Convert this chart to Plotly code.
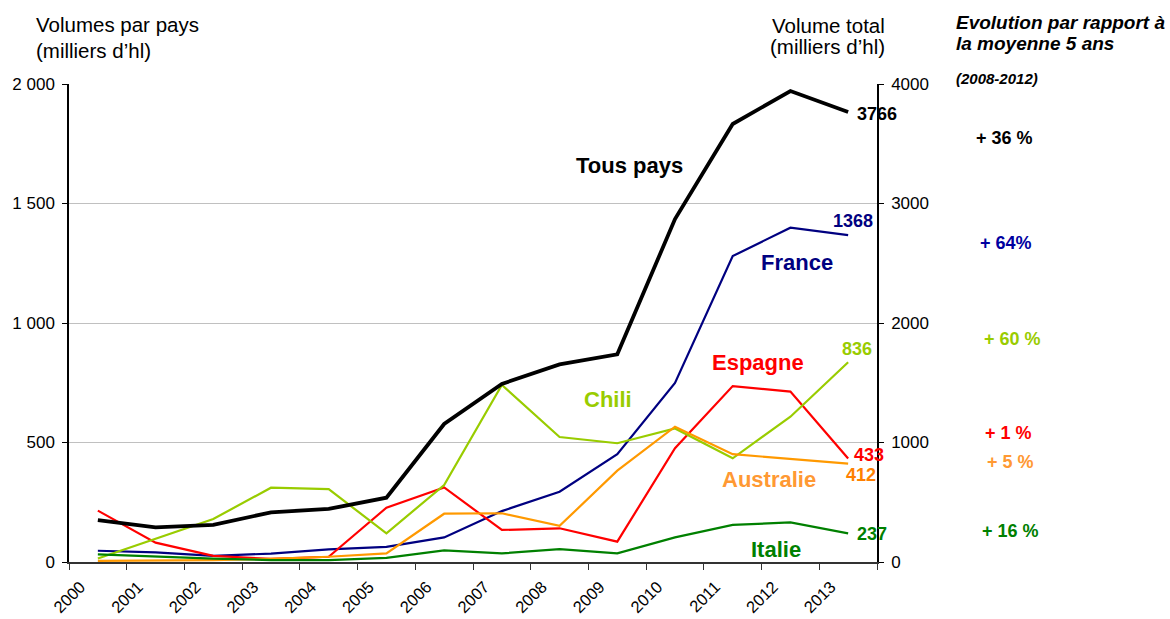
import plotly.graph_objects as go

years = [str(y) for y in range(2000, 2014)]
tous_pays = [351, 290, 310, 416, 444, 538, 1155, 1490, 1654, 1738, 2870, 3665, 3941, 3766]
france = [47, 40, 26, 35, 53, 63, 103, 213, 294, 451, 749, 1280, 1399, 1368]
espagne = [215, 81, 26, 13, 22, 227, 312, 134, 141, 85, 476, 736, 713, 433]
chili = [15, 97, 180, 311, 305, 120, 322, 741, 523, 497, 559, 434, 608, 836]
australie = [5, 5, 8, 13, 22, 36, 202, 204, 151, 382, 566, 451, 430, 412]
italie = [32, 22, 14, 8, 8, 17, 49, 36, 54, 36, 103, 155, 166, 120]
end_labels = {"tous": "3766", "france": "1368", "chili": "836", "espagne": "433",
              "australie": "412", "italie": "237"}
evolution = ["+ 36 %", "+ 64%", "+ 60 %", "+ 1 %", "+ 5 %", "+ 16 %"]
left_ticks = [0, 500, 1000, 1500, 2000]
left_ticktext = ["0", "500", "1 000", "1 500", "2 000"]
right_ticks = [0, 1000, 2000, 3000, 4000]

W, H = 1170, 619
L, R, T, B = 69, 877, 84, 562
FONT = "Liberation Sans, Arial, sans-serif"

def px(x):
    return (x - L) / (R - L)

def py(y):
    return (B - y) / (B - T)

xs = list(range(len(years)))

fig = go.Figure()
series = [
    (france, "#000080"),
    (espagne, "#FF0000"),
    (chili, "#99CC00"),
    (australie, "#FF9900"),
    (italie, "#008000"),
]
for vals, col in series:
    fig.add_trace(go.Scatter(x=xs, y=vals, mode="lines", line=dict(color=col, width=2.2),
                             yaxis="y", showlegend=False, hoverinfo="skip"))
fig.add_trace(go.Scatter(x=xs, y=tous_pays, mode="lines", line=dict(color="#000000", width=3.8),
                         yaxis="y2", showlegend=False, hoverinfo="skip"))

fig.update_layout(
    width=W, height=H,
    margin=dict(l=L, r=W - R, t=T, b=H - B, autoexpand=False),
    paper_bgcolor="white", plot_bgcolor="white",
    font=dict(family=FONT, size=15, color="black"),
    xaxis=dict(
        range=[-0.5, len(years) - 0.5], automargin=False,
        tickmode="array", tickvals=[i - 0.3 for i in xs], ticktext=years,
        tickangle=-45, ticks="", showgrid=False, zeroline=False,
        showline=True, linecolor="#333333", linewidth=1.5,
        tickfont=dict(size=16.5, family=FONT), ticklabelstandoff=7,
        minor=dict(tickmode="array", tickvals=[i - 0.5 for i in range(len(years) + 1)],
                   ticks="outside", ticklen=6, tickcolor="#333333", tickwidth=1.2, showgrid=False),
    ),
    yaxis=dict(
        range=[0, 2000], tickmode="array", tickvals=left_ticks, ticktext=left_ticktext,
        automargin=False,
        showgrid=True, gridcolor="#C0C0C0", gridwidth=1, zeroline=False,
        showline=True, linecolor="black", linewidth=1.5,
        ticks="outside", ticklen=5, tickcolor="black", ticklabelstandoff=4,
        tickfont=dict(size=17, family=FONT),
    ),
    yaxis2=dict(
        range=[0, 4000], overlaying="y", side="right", tickmode="array", tickvals=right_ticks,
        automargin=False,
        showgrid=False, zeroline=False, showline=True, linecolor="black", linewidth=1.5,
        ticks="outside", ticklen=5, tickcolor="black", ticklabelstandoff=4,
        tickfont=dict(size=17, family=FONT),
    ),
)

annots = []

def add(text, x, y, color="black", size=15, bold=False, italic=False, xanchor="center", yanchor="middle"):
    t = text
    if bold:
        t = "<b>" + t + "</b>"
    if italic:
        t = "<i>" + t + "</i>"
    annots.append(dict(text=t, x=px(x), y=py(y), xref="paper", yref="paper", showarrow=False,
                       xanchor=xanchor, yanchor=yanchor,
                       font=dict(color=color, size=size, family=FONT)))

# axis titles
add("Volumes par pays", 34, 25, size=20.5, xanchor="left")
add("(milliers d’hl)", 34, 50, size=20.5, xanchor="left")
add("Volume total", 887, 26, size=20.5, xanchor="right")
add("(milliers d’hl)", 887, 47, size=20.5, xanchor="right")
add("Evolution par rapport à", 954, 22, size=19, bold=True, italic=True, xanchor="left")
add("la moyenne 5 ans", 954, 43, size=19, bold=True, italic=True, xanchor="left")
add("(2008-2012)", 954, 79, size=15, bold=True, italic=True, xanchor="left")

# series names
add("Tous pays", 629, 165, size=22, bold=True)
add("France", 797, 262, color="#000080", size=22, bold=True)
add("Espagne", 758, 362, color="#FF0000", size=22, bold=True)
add("Chili", 608, 399, color="#99CC00", size=22, bold=True)
add("Australie", 769, 479, color="#FF9933", size=22, bold=True)
add("Italie", 776, 549, color="#008000", size=22, bold=True)

# end values
add(end_labels["tous"], 855, 114, size=18, bold=True, xanchor="left")
add(end_labels["france"], 853, 221, color="#000080", size=18, bold=True)
add(end_labels["chili"], 857, 349, color="#99CC00", size=18, bold=True)
add(end_labels["espagne"], 852, 455, color="#FF0000", size=18, bold=True, xanchor="left")
add(end_labels["australie"], 844, 475, color="#FF8000", size=18, bold=True, xanchor="left")
add(end_labels["italie"], 855, 534, color="#008000", size=18, bold=True, xanchor="left")

# evolution percentages
ev_cols = ["#000000", "#0000A0", "#99CC00", "#FF0000", "#FF9933", "#008000"]
ev_pos = [(1004, 138), (1006, 243), (1012, 339), (1008, 433), (1011, 462), (1010, 531)]
for txt, col, (x, y) in zip(evolution, ev_cols, ev_pos):
    add(txt, x, y, color=col, size=18, bold=True)

fig.update_layout(annotations=annots)
fig.write_html("out.html", config={"displayModeBar": False},
               post_script="document.body.style.margin='0';document.body.style.overflow='hidden';")
